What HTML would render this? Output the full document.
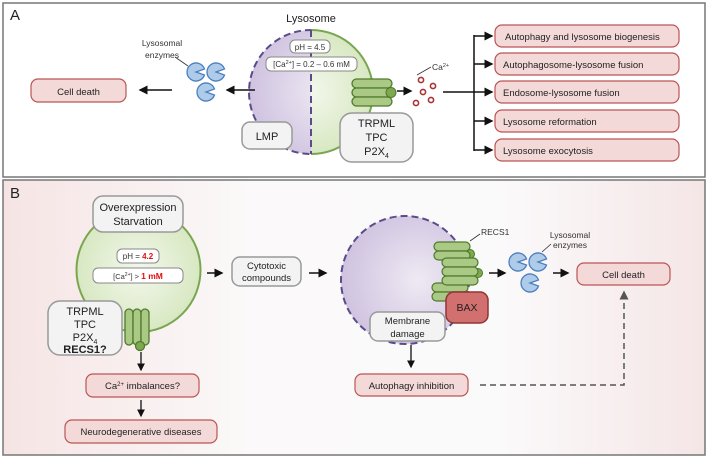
<!DOCTYPE html>
<html><head><meta charset="utf-8"><style>
body{margin:0;background:#fff}
svg{display:block;font-family:"Liberation Sans",sans-serif}
</style></head><body>
<svg width="708" height="457" viewBox="0 0 708 457">
<defs>
<marker id="ah" markerWidth="6" markerHeight="6" refX="5" refY="3" orient="auto"><path d="M0,0 L6,3 L0,6 z" fill="#111"/></marker>
<marker id="ahg" markerWidth="6" markerHeight="6" refX="5" refY="3" orient="auto"><path d="M0,0 L6,3 L0,6 z" fill="#555"/></marker>
<linearGradient id="bgB" x1="0" x2="1" y1="0" y2="0"><stop offset="0" stop-color="#f6e4e4"/><stop offset="0.35" stop-color="#fbf9f9"/><stop offset="0.7" stop-color="#fbfafb"/><stop offset="1" stop-color="#f5e6e6"/></linearGradient>
<radialGradient id="gcirc" cx="0.5" cy="0.5" r="0.5"><stop offset="0" stop-color="#f3f7ec"/><stop offset="1" stop-color="#d8e8c2"/></radialGradient>
<radialGradient id="pcirc" cx="0.6" cy="0.5" r="0.6"><stop offset="0" stop-color="#eeeaf3"/><stop offset="1" stop-color="#cfc2e0"/></radialGradient>
<clipPath id="leftHalf"><rect x="240" y="20" width="71" height="140"/></clipPath>
<clipPath id="rightHalf"><rect x="311" y="20" width="80" height="140"/></clipPath>
<g id="pill"><rect x="0" y="0" width="40" height="9" rx="4.5" fill="#a9c984" stroke="#4f7a2c" stroke-width="1.3"/></g>
<g id="enz"><path d="M9,0 A9,9 0 1 0 9,0.01 Z" fill="none"/><path d="M0,0 m8.5,-3 A9,9 0 1 0 8.5,3 L0,0 Z" fill="#aecbea" stroke="#4b7fbf" stroke-width="1.3"/></g>
</defs>

<!-- Panel A -->
<rect x="3" y="3" width="702" height="174" fill="#fff" stroke="#777" stroke-width="1.5"/>
<text x="10" y="20" font-size="15" fill="#222">A</text>
<text x="311" y="22" font-size="11" text-anchor="middle" fill="#222">Lysosome</text>
<g>
<circle cx="311" cy="92" r="62" fill="url(#pcirc)" stroke="#5a4c8a" stroke-width="2" stroke-dasharray="7,4" clip-path="url(#leftHalf)"/>
<circle cx="311" cy="92" r="62" fill="url(#gcirc)" stroke="#79a650" stroke-width="2" clip-path="url(#rightHalf)"/>
<line x1="311" y1="30" x2="311" y2="154" stroke="#5a4c8a" stroke-width="2" stroke-dasharray="7,4"/>
</g>
<rect x="290" y="40" width="40" height="13" rx="5" fill="#fff" stroke="#888"/>
<text x="310" y="50" font-size="8" text-anchor="middle" fill="#333">pH =  4.5</text>
<rect x="266" y="57" width="91" height="14" rx="5" fill="#fff" stroke="#888"/>
<text x="311.5" y="67" font-size="8" text-anchor="middle" fill="#333">[Ca<tspan font-size="5.5" dy="-3">2+</tspan><tspan dy="3">] = 0.2 – 0.6 mM</tspan></text>
<g transform="translate(352,79)">
<use href="#pill" x="0" y="0"/><use href="#pill" x="0" y="9"/><use href="#pill" x="0" y="18"/>
<circle cx="39" cy="13.5" r="5" fill="#7ea94e" stroke="#4f7a2c"/>
</g>
<rect x="242" y="122" width="50" height="27" rx="8" fill="#f3f3f3" stroke="#999" stroke-width="1.5"/>
<text x="267" y="140" font-size="11" text-anchor="middle" fill="#222">LMP</text>
<rect x="340" y="113" width="73" height="49" rx="12" fill="#f3f3f3" stroke="#999" stroke-width="1.5"/>
<text x="376.5" y="127" font-size="11" text-anchor="middle" fill="#222">TRPML</text>
<text x="376.5" y="141" font-size="11" text-anchor="middle" fill="#222">TPC</text>
<text x="376.5" y="155" font-size="11" text-anchor="middle" fill="#222">P2X<tspan font-size="7" dy="3">4</tspan></text>
<text x="162" y="46" font-size="8.5" text-anchor="middle" fill="#333">Lysosomal</text>
<text x="162" y="58" font-size="8.5" text-anchor="middle" fill="#333">enzymes</text>
<line x1="175" y1="57" x2="188" y2="66" stroke="#333" stroke-width="0.8"/>
<g>
<use href="#enz" x="196" y="72"/><use href="#enz" x="216" y="72"/><use href="#enz" x="206" y="92"/>
</g>
<line x1="255" y1="90" x2="227" y2="90" stroke="#111" stroke-width="1.5" marker-end="url(#ah)"/>
<line x1="172" y1="90" x2="140" y2="90" stroke="#111" stroke-width="1.5" marker-end="url(#ah)"/>
<rect x="31" y="79" width="95" height="23" rx="7" fill="#f4d9d9" stroke="#b55" stroke-width="1.2"/>
<text x="78.5" y="95" font-size="9.5" text-anchor="middle" fill="#222">Cell death</text>
<line x1="397" y1="91" x2="411" y2="91" stroke="#111" stroke-width="1.5" marker-end="url(#ah)"/>
<g fill="none" stroke="#a33" stroke-width="1.6">
<circle cx="421" cy="80" r="2.6"/><circle cx="423" cy="92" r="2.6"/><circle cx="433" cy="86" r="2.6"/><circle cx="416" cy="103" r="2.6"/><circle cx="431" cy="100" r="2.6"/>
</g>
<line x1="417" y1="75" x2="431" y2="67" stroke="#333" stroke-width="0.8"/>
<text x="432" y="70" font-size="8.5" fill="#333">Ca<tspan font-size="5.5" dy="-3">2+</tspan></text>
<line x1="443" y1="92" x2="474" y2="92" stroke="#111" stroke-width="1.5"/>
<line x1="474" y1="35" x2="474" y2="151" stroke="#111" stroke-width="1.5"/>
<g>
<line x1="474" y1="36" x2="492" y2="36" stroke="#111" stroke-width="1.5" marker-end="url(#ah)"/>
<line x1="474" y1="64" x2="492" y2="64" stroke="#111" stroke-width="1.5" marker-end="url(#ah)"/>
<line x1="474" y1="92" x2="492" y2="92" stroke="#111" stroke-width="1.5" marker-end="url(#ah)"/>
<line x1="474" y1="121" x2="492" y2="121" stroke="#111" stroke-width="1.5" marker-end="url(#ah)"/>
<line x1="474" y1="150" x2="492" y2="150" stroke="#111" stroke-width="1.5" marker-end="url(#ah)"/>
<rect x="495" y="25" width="184" height="22" rx="7" fill="#f4d9d9" stroke="#b55" stroke-width="1.2"/>
<text x="505" y="40" font-size="9.5" fill="#222">Autophagy and lysosome biogenesis</text>
<rect x="495" y="53" width="184" height="22" rx="7" fill="#f4d9d9" stroke="#b55" stroke-width="1.2"/>
<text x="503" y="68" font-size="9.5" fill="#222">Autophagosome-lysosome fusion</text>
<rect x="495" y="81" width="184" height="22" rx="7" fill="#f4d9d9" stroke="#b55" stroke-width="1.2"/>
<text x="503" y="96" font-size="9.5" fill="#222">Endosome-lysosome fusion</text>
<rect x="495" y="110" width="184" height="22" rx="7" fill="#f4d9d9" stroke="#b55" stroke-width="1.2"/>
<text x="503" y="125" font-size="9.5" fill="#222">Lysosome reformation</text>
<rect x="495" y="139" width="184" height="22" rx="7" fill="#f4d9d9" stroke="#b55" stroke-width="1.2"/>
<text x="503" y="154" font-size="9.5" fill="#222">Lysosome exocytosis</text>
</g>

<!-- Panel B -->
<rect x="3" y="180" width="702" height="275" fill="url(#bgB)" stroke="#777" stroke-width="1.5"/>
<text x="10" y="198" font-size="15" fill="#222">B</text>
<circle cx="138.5" cy="270" r="62" fill="url(#gcirc)" stroke="#79a650" stroke-width="2"/>
<rect x="93" y="196" width="90" height="36" rx="10" fill="#f3f3f3" stroke="#999" stroke-width="1.5"/>
<text x="138" y="211" font-size="11" text-anchor="middle" fill="#222">Overexpression</text>
<text x="138" y="225" font-size="11" text-anchor="middle" fill="#222">Starvation</text>
<rect x="117" y="249" width="42" height="14" rx="5" fill="#fff" stroke="#888"/>
<text x="138" y="259" font-size="8" text-anchor="middle" fill="#333">pH =  <tspan fill="#e01010" font-weight="bold">4.2</tspan></text>
<rect x="93" y="268" width="90" height="15" rx="5" fill="#fff" stroke="#888"/>
<text x="138" y="279" font-size="7.5" text-anchor="middle" fill="#333">[Ca<tspan font-size="5" dy="-3">2+</tspan><tspan dy="3">] &gt; </tspan><tspan fill="#e01010" font-weight="bold" font-size="8.5">1 mM</tspan></text>
<rect x="48" y="301" width="74" height="54" rx="12" fill="#f3f3f3" stroke="#999" stroke-width="1.5"/>
<text x="85" y="315" font-size="11" text-anchor="middle" fill="#222">TRPML</text>
<text x="85" y="328" font-size="11" text-anchor="middle" fill="#222">TPC</text>
<text x="85" y="341" font-size="11" text-anchor="middle" fill="#222">P2X<tspan font-size="7" dy="3">4</tspan></text>
<text x="85" y="353" font-size="11" text-anchor="middle" fill="#222" font-weight="bold">RECS1?</text>
<g fill="#a9c984" stroke="#4f7a2c" stroke-width="1.3">
<rect x="125" y="309" width="8" height="36" rx="4"/><rect x="133" y="309" width="8" height="36" rx="4"/><rect x="141" y="309" width="8" height="36" rx="4"/>
<circle cx="140" cy="346" r="4.5" fill="#7ea94e"/>
</g>
<line x1="141" y1="352" x2="141" y2="370" stroke="#111" stroke-width="1.3" marker-end="url(#ah)"/>
<rect x="86" y="374" width="113" height="23" rx="7" fill="#f4d9d9" stroke="#b55" stroke-width="1.2"/>
<text x="142.5" y="389" font-size="9.5" text-anchor="middle" fill="#222">Ca<tspan font-size="6" dy="-3">2+</tspan><tspan dy="3"> imbalances?</tspan></text>
<line x1="141" y1="400" x2="141" y2="416" stroke="#111" stroke-width="1.3" marker-end="url(#ah)"/>
<rect x="65" y="420" width="152" height="23" rx="7" fill="#f4d9d9" stroke="#b55" stroke-width="1.2"/>
<text x="141" y="435" font-size="9.5" text-anchor="middle" fill="#222">Neurodegenerative diseases</text>
<line x1="207" y1="273" x2="222" y2="273" stroke="#111" stroke-width="1.5" marker-end="url(#ah)"/>
<rect x="232" y="257" width="69" height="29" rx="8" fill="#f3f3f3" stroke="#999" stroke-width="1.5"/>
<text x="266.5" y="269" font-size="9.5" text-anchor="middle" fill="#222">Cytotoxic</text>
<text x="266.5" y="281" font-size="9.5" text-anchor="middle" fill="#222">compounds</text>
<line x1="309" y1="273" x2="326" y2="273" stroke="#111" stroke-width="1.5" marker-end="url(#ah)"/>
<circle cx="405" cy="280" r="64" fill="url(#pcirc)" stroke="#5a4c8a" stroke-width="2" stroke-dasharray="7,4"/>
<g>
<circle cx="470" cy="254" r="4.5" fill="#7ea94e" stroke="#4f7a2c"/>
<circle cx="478" cy="273" r="4.5" fill="#7ea94e" stroke="#4f7a2c"/>
<rect x="434" y="242" width="36" height="9" rx="4.5" fill="#a9c984" stroke="#4f7a2c" stroke-width="1.2"/>
<rect x="434" y="251" width="36" height="9" rx="4.5" fill="#a9c984" stroke="#4f7a2c" stroke-width="1.2"/>
<rect x="432" y="283" width="36" height="9" rx="4.5" fill="#a9c984" stroke="#4f7a2c" stroke-width="1.2"/>
<rect x="432" y="292" width="36" height="9" rx="4.5" fill="#a9c984" stroke="#4f7a2c" stroke-width="1.2"/>
<rect x="442" y="258" width="36" height="9" rx="4.5" fill="#a9c984" stroke="#4f7a2c" stroke-width="1.2"/>
<rect x="442" y="267" width="36" height="9" rx="4.5" fill="#a9c984" stroke="#4f7a2c" stroke-width="1.2"/>
<rect x="442" y="276" width="36" height="9" rx="4.5" fill="#a9c984" stroke="#4f7a2c" stroke-width="1.2"/>
</g>
<rect x="446" y="292" width="42" height="31" rx="8" fill="#d26f6f" stroke="#8e3535" stroke-width="1.5"/>
<text x="467" y="311" font-size="10.5" text-anchor="middle" fill="#222">BAX</text>
<line x1="470" y1="241" x2="480" y2="234" stroke="#333" stroke-width="0.8"/>
<text x="481" y="235" font-size="8.5" fill="#333">RECS1</text>
<rect x="370" y="312" width="75" height="29" rx="8" fill="#f3f3f3" stroke="#999" stroke-width="1.5"/>
<text x="407.5" y="324" font-size="9.5" text-anchor="middle" fill="#222">Membrane</text>
<text x="407.5" y="337" font-size="9.5" text-anchor="middle" fill="#222">damage</text>
<line x1="411" y1="345" x2="411" y2="367" stroke="#111" stroke-width="1.3" marker-end="url(#ah)"/>
<rect x="355" y="374" width="113" height="22" rx="7" fill="#f4d9d9" stroke="#b55" stroke-width="1.2"/>
<text x="411.5" y="389" font-size="9.5" text-anchor="middle" fill="#222">Autophagy inhibition</text>
<line x1="489" y1="273" x2="505" y2="273" stroke="#111" stroke-width="1.5" marker-end="url(#ah)"/>
<g>
<use href="#enz" x="518" y="262"/><use href="#enz" x="538" y="262"/><use href="#enz" x="530" y="283"/>
</g>
<line x1="542" y1="252" x2="551" y2="244" stroke="#333" stroke-width="0.8"/>
<text x="570" y="238" font-size="8.5" text-anchor="middle" fill="#333">Lysosomal</text>
<text x="570" y="248" font-size="8.5" text-anchor="middle" fill="#333">enzymes</text>
<line x1="553" y1="273" x2="568" y2="273" stroke="#111" stroke-width="1.5" marker-end="url(#ah)"/>
<rect x="577" y="263" width="93" height="22" rx="7" fill="#f4d9d9" stroke="#b55" stroke-width="1.2"/>
<text x="623.5" y="278" font-size="9.5" text-anchor="middle" fill="#222">Cell death</text>
<polyline points="480,385 624,385 624,292" fill="none" stroke="#555" stroke-width="1.5" stroke-dasharray="6,4" marker-end="url(#ahg)"/>
</svg>
</body></html>
